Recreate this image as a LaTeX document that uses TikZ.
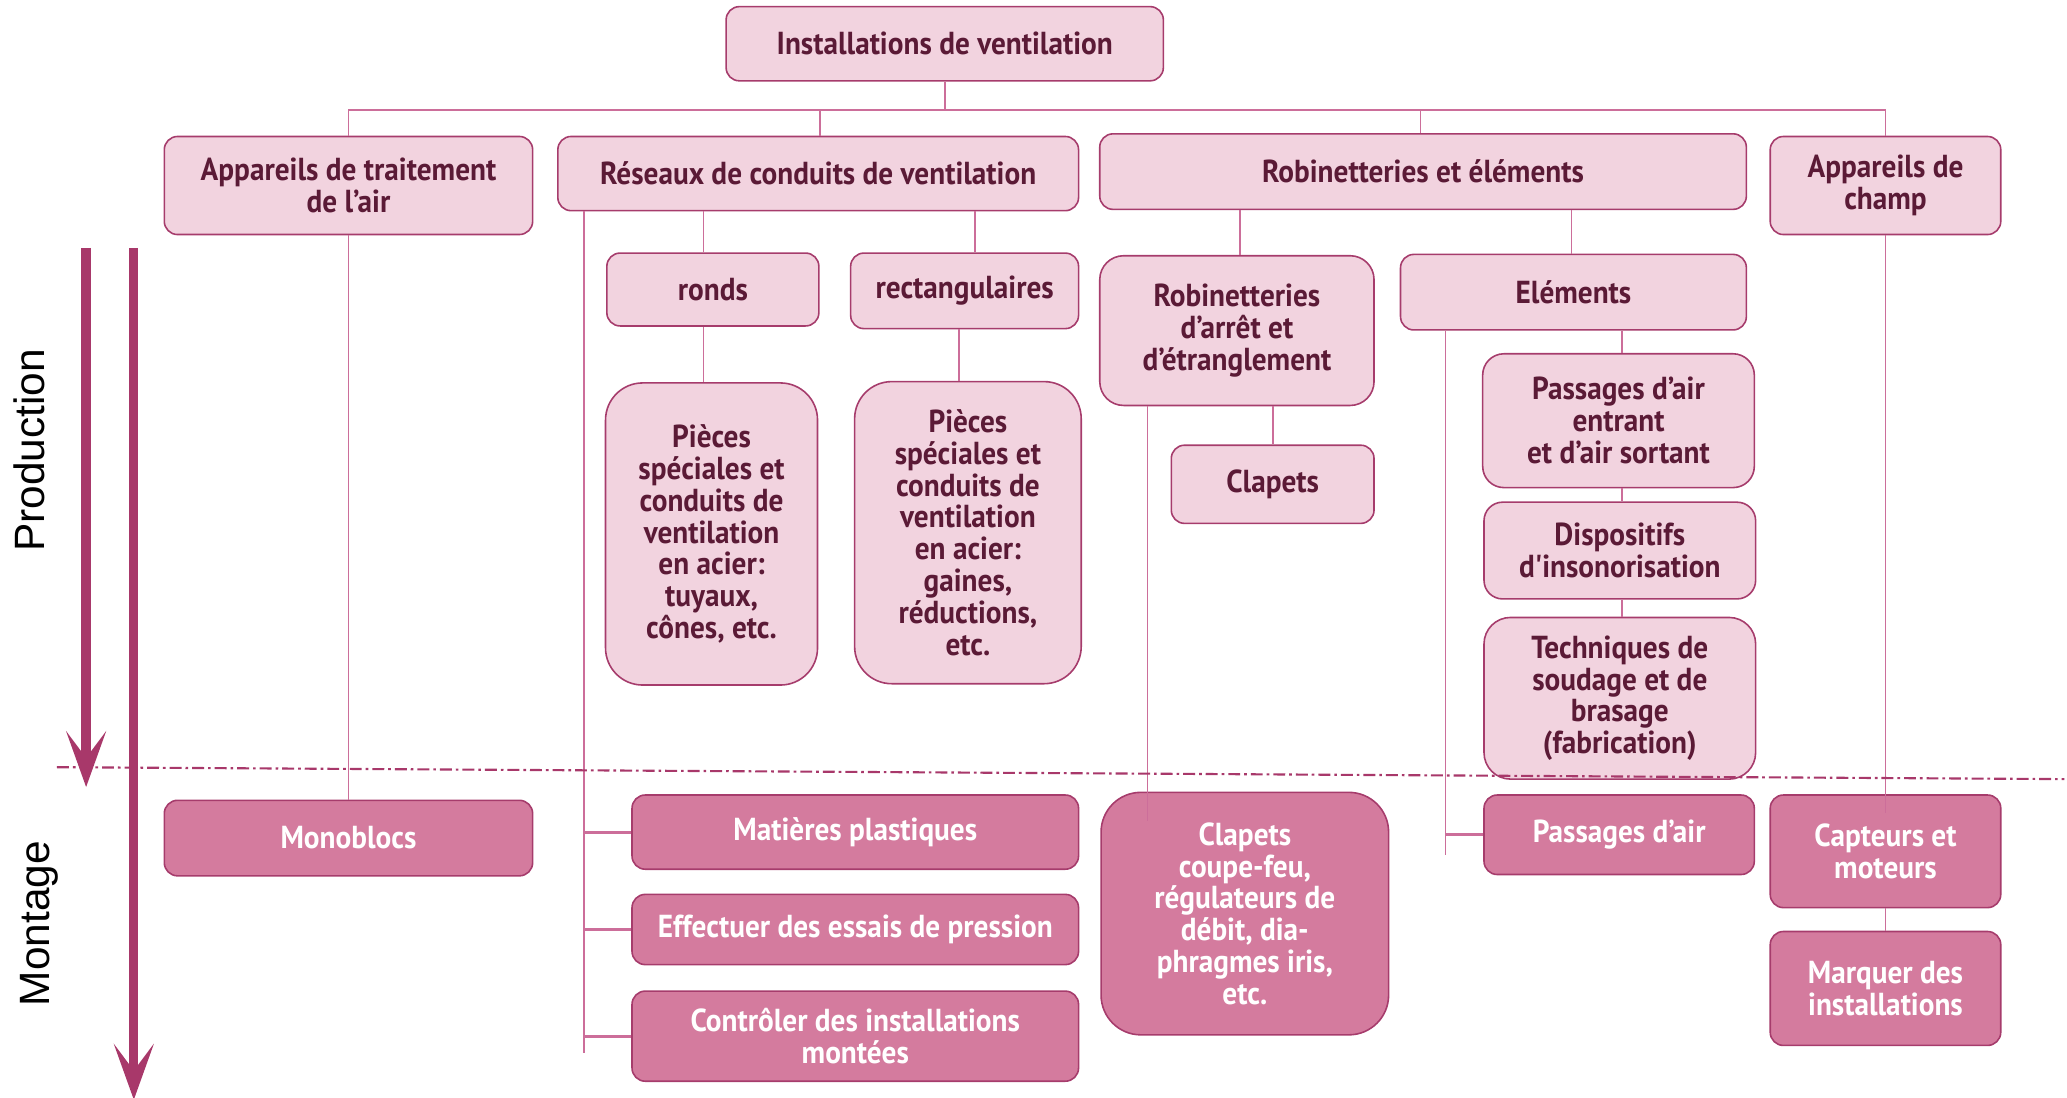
\documentclass[tikz,border=0pt]{standalone}
\usepackage{fontspec}
\setmainfont{PT Sans}[FakeStretch=0.92]
\newfontfamily\labelfont{Liberation Sans}
\usetikzlibrary{arrows.meta,calc}
\definecolor{lightc}{HTML}{F2D3DF}
\definecolor{darkc}{HTML}{D47B9E}
\definecolor{bordc}{HTML}{A63C6C}
\definecolor{txtc}{HTML}{5B1A36}
\definecolor{connc}{HTML}{CC6E9A}
\definecolor{arrc}{HTML}{A8386A}
\tikzset{
  box/.style={draw=bordc, line width=1.2pt, fill=lightc, rounded corners=10pt, align=center,
    text=txtc, font=\fontsize{24}{24}\selectfont\bfseries, inner sep=0pt},
  dbox/.style={box, fill=darkc, text=white},
  conn/.style={draw=connc, line width=1.3pt},
  branch/.style={draw=connc, line width=2.2pt},
  bigarrow/.style={draw=arrc, line width=7pt, -{Stealth[length=42pt, width=30pt, inset=20pt]}},
  sidelabel/.style={font=\labelfont\fontsize{32}{36}\selectfont, rotate=90, text=black}
}
\begin{document}
\begin{tikzpicture}[x=1pt,y=-1pt]
\useasboundingbox (0,0) rectangle (1560,828);

% level 0 and 1
\node[box, minimum width=330pt, minimum height=56pt] (top) at (713,33) {Installations de ventilation};
\node[box, minimum width=278pt, minimum height=74pt] (app) at (263,140) {Appareils de traitement\\de l’air};
\node[box, minimum width=393pt, minimum height=56pt] (res) at (617.5,131) {Réseaux de conduits de ventilation};
\node[box, minimum width=488pt, minimum height=57pt] (rob) at (1074,129.5) {Robinetteries et éléments};
\node[box, minimum width=174pt, minimum height=74pt] (champ) at (1423,140) {Appareils de\\champ};

% level 2
\node[box, minimum width=160pt, minimum height=55pt] (ronds) at (538,218.5) {ronds};
\node[box, minimum width=172pt, minimum height=57pt] (rect) at (728,219.5) {rectangulaires};
\node[box, rounded corners=28pt, minimum width=160pt, minimum height=228pt] (pr) at (537,403)
  {Pièces\\spéciales et\\conduits de\\ventilation\\en acier:\\tuyaux,\\cônes, etc.};
\node[box, rounded corners=28pt, minimum width=171pt, minimum height=228pt] (pq) at (730.5,402)
  {Pièces\\spéciales et\\conduits de\\ventilation\\en acier:\\gaines,\\réductions,\\etc.};
\node[box, rounded corners=18pt, minimum width=207pt, minimum height=113pt] (robarr) at (933.5,249.5)
  {Robinetteries\\d’arrêt et\\d’étranglement};
\node[box, minimum width=261pt, minimum height=57pt] (elem) at (1187.5,220.5) {Eléments};
\node[box, minimum width=153pt, minimum height=59pt] (clap) at (960.5,365.5) {Clapets};
\node[box, rounded corners=16pt, minimum width=205pt, minimum height=101pt] (pass) at (1221.5,317.5)
  {Passages d’air\\entrant\\et d’air sortant};
\node[box, rounded corners=14pt, minimum width=205pt, minimum height=73pt] (disp) at (1222.5,415.5)
  {Dispositifs\\{\addfontfeatures{Ligatures=TeXOff}d'insonorisation}};
\node[box, rounded corners=20pt, minimum width=205pt, minimum height=122pt] (tech) at (1222.5,527)
  {Techniques de\\soudage et de\\brasage\\(fabrication)};

% montage level
\node[dbox, minimum width=278pt, minimum height=57pt] (mono) at (263,632.5) {Monoblocs};
\node[dbox, minimum width=337pt, minimum height=56pt] (mat) at (645.5,628) {Matières plastiques};
\node[dbox, minimum width=337pt, minimum height=53pt] (eff) at (645.5,701.5) {Effectuer des essais de pression};
\node[dbox, minimum width=337pt, minimum height=68pt] (ctrl) at (645.5,782) {Contrôler des installations\\montées};
\node[dbox, rounded corners=30pt, minimum width=217pt, minimum height=183pt] (cfeu) at (939.5,689.5)
  {Clapets\\coupe-feu,\\régulateurs de\\débit, dia-\\phragmes iris,\\etc.};
\node[dbox, minimum width=204pt, minimum height=60pt] (pair) at (1222,630) {Passages d’air};
\node[dbox, minimum width=174pt, minimum height=85pt] (capt) at (1423,642.5) {Capteurs et\\moteurs};
\node[dbox, minimum width=174pt, minimum height=86pt] (marq) at (1423,746) {Marquer des\\installations};

% helper coordinates
\coordinate (bus) at (713,83);
\coordinate (busL) at (263,83);
\coordinate (busR) at (1423,83);
\coordinate (x441) at (441,0);
\coordinate (x531) at (531,0);
\coordinate (x619) at (619,0);
\coordinate (x724) at (724,0);
\coordinate (x736) at (736,0);
\coordinate (x866) at (866,0);
\coordinate (x936) at (936,0);
\coordinate (x961) at (961,0);
\coordinate (x1072) at (1072,0);
\coordinate (x1091) at (1091,0);
\coordinate (x1186) at (1186,0);
\coordinate (x1224) at (1224,0);
\coordinate (resEnd) at (441,795);
\coordinate (elemEnd) at (1091,645);

% connectors
\draw[conn] (top.south) -- (bus);
\draw[conn] (busL) -- (busR);
\draw[conn] (busL) -- (app.north);
\draw[conn] (bus -| x619) -- (res.north -| x619);
\draw[conn] (bus -| x1072) -- (rob.north -| x1072);
\draw[conn] (busR) -- (champ.north);
\draw[conn] (app.south) -- (mono.north);
\draw[conn] (res.south -| x531) -- (ronds.north -| x531);
\draw[conn] (res.south -| x736) -- (rect.north -| x736);
\draw[conn] (ronds.south -| x531) -- (pr.north -| x531);
\draw[conn] (rect.south -| x724) -- (pq.north -| x724);
\draw[conn] (res.south -| x441) -- (resEnd);
\draw[branch] (mat.west -| x441) -- (mat.west);
\draw[branch] (eff.west -| x441) -- (eff.west);
\draw[branch] (ctrl.west -| x441) -- (ctrl.west);
\draw[conn] (rob.south -| x936) -- (robarr.north -| x936);
\draw[conn] (rob.south -| x1186) -- (elem.north -| x1186);
\draw[conn] (robarr.south -| x961) -- (clap.north -| x961);
\draw[conn] (robarr.south -| x866) -- ($(cfeu.north -| x866)+(0,22)$);
\draw[conn] (elem.south -| x1224) -- (pass.north -| x1224);
\draw[conn] (pass.south -| x1224) -- (disp.north -| x1224);
\draw[conn] (disp.south -| x1224) -- (tech.north -| x1224);
\draw[conn] (elem.south -| x1091) -- (elemEnd);
\draw[branch] (pair.west -| x1091) -- (pair.west);
\draw[conn] (champ.south) -- ($(capt.north)+(0,14)$);
\draw[conn] (capt.south) -- (marq.north);

% phase arrows and labels
\coordinate (pA) at (65,187);
\coordinate (pB) at (65,594);
\coordinate (mA) at (101,187);
\coordinate (mB) at (101,830);
\draw[bigarrow] (pA) -- (pB);
\draw[bigarrow] (mA) -- (mB);
\node[sidelabel] (prod) at (22,340) {Production};
\node[sidelabel] (mont) at (30,697) {Montage};

% separation line
\coordinate (sepL) at (43,579);
\coordinate (sepR) at (1558,588);
\draw[arrc, line width=1.6pt, dash pattern=on 9pt off 3pt on 2pt off 3pt] (sepL) -- (sepR);
\end{tikzpicture}
\end{document}
